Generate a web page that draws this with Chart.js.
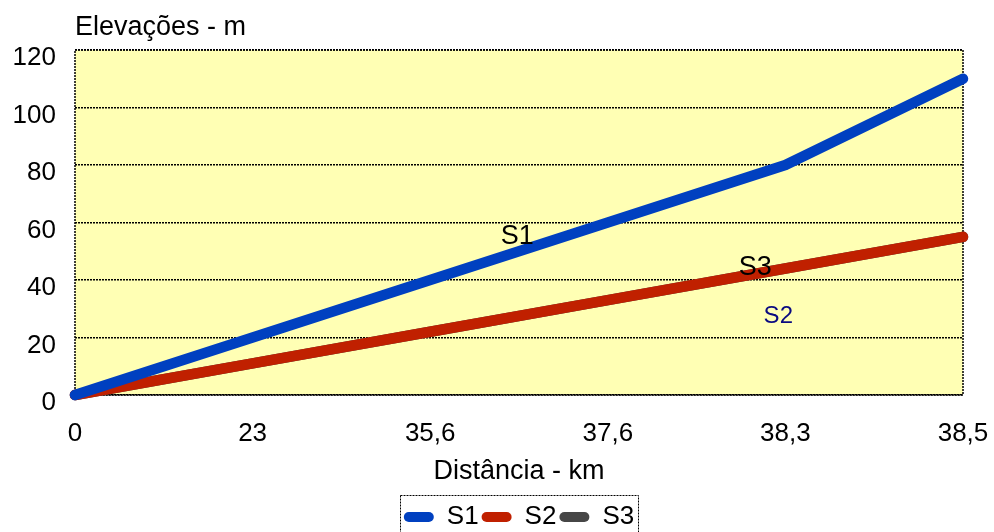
<!DOCTYPE html>
<html>
<head>
<meta charset="utf-8">
<script src="https://cdn.jsdelivr.net/npm/chart.js@4/dist/chart.umd.min.js"></script>
<style>
  html, body { margin: 0; padding: 0; background: #ffffff; overflow: hidden; }
  #wrap { position: relative; width: 994px; height: 540px; }
</style>
</head>
<body>
<div id="wrap"><canvas id="chart"></canvas></div>
<script>
// Distance along the route (km) and elevation (m) for each profile
const distances = ['0', '23', '35,6', '37,6', '38,3', '38,5'];
const s1Elevation = [0, 20, 40, 60, 80, 110];
const s2Elevation = [0, 11, 22, 33, 44, 55];
const s3Elevation = [0, 11, 22, 33, 44, 55];
const yTicks = [0, 20, 40, 60, 80, 100, 120];

// Series names written beside the curves: category position and elevation
const curveNotes = [
  { text: 'S1', at: 2.49, value: 55 },
  { text: 'S3', at: 3.83, value: 44.2 },
  { text: 'S2', at: 3.96, value: 27.5 }
];
const noteStyles = {
  S1: { color: '#000000', size: 27 },
  S3: { color: '#000000', size: 27 },
  S2: { color: '#0a0a80', size: 24 }
};

const FONT = '"Liberation Sans", Arial, Helvetica, sans-serif';
const DOTS = [2, 1];

const plotFrame = {
  id: 'plotFrame',
  beforeDraw(chart) {
    const { ctx, chartArea: a } = chart;
    ctx.save();
    ctx.fillStyle = '#ffffb4';
    ctx.fillRect(a.left, a.top, a.right - a.left, a.bottom - a.top);
    ctx.restore();
  },
  beforeDatasetsDraw(chart) {
    const { ctx, chartArea: a } = chart;
    ctx.save();
    ctx.strokeStyle = '#000000';
    ctx.lineWidth = 1.5;
    ctx.setLineDash(DOTS);
    ctx.strokeRect(a.left, a.top, a.right - a.left, a.bottom - a.top);
    ctx.restore();
  },
  afterDraw(chart) {
    const { ctx, chartArea: a } = chart;
    ctx.save();
    // axis heading above the value scale
    ctx.fillStyle = '#000000';
    ctx.font = '27px ' + FONT;
    ctx.textAlign = 'left';
    ctx.textBaseline = 'alphabetic';
    ctx.fillText('Elevações - m', a.left, 35);

    // series names along the curves
    const xs = chart.scales.x, ys = chart.scales.y;
    curveNotes.forEach(n => {
      const st = noteStyles[n.text];
      ctx.fillStyle = st.color;
      ctx.font = st.size + 'px ' + FONT;
      ctx.textAlign = 'center';
      ctx.textBaseline = 'middle';
      ctx.fillText(n.text, xs.getPixelForValue(n.at), ys.getPixelForValue(n.value));
    });

    // dotted frame around the legend
    const lg = chart.legend;
    if (lg && lg.legendHitBoxes && lg.legendHitBoxes.length) {
      const boxes = lg.legendHitBoxes;
      const left = Math.min(...boxes.map(b => b.left)) - 4;
      const right = Math.max(...boxes.map(b => b.left + b.width)) + 4;
      const top = lg.top - 6;
      ctx.strokeStyle = '#000000';
      ctx.lineWidth = 1;
      ctx.setLineDash(DOTS);
      ctx.strokeRect(Math.round(left) + 0.5, Math.round(top) + 0.5, Math.round(right - left), chart.height);
    }
    ctx.restore();
  }
};

const lineStyle = (color) => ({
  borderColor: color,
  backgroundColor: color,
  borderWidth: 10.5,
  borderCapStyle: 'round',
  borderJoinStyle: 'round',
  pointRadius: 0,
  pointHoverRadius: 0,
  tension: 0,
  fill: false,
  clip: false
});

new Chart(document.getElementById('chart'), {
  type: 'line',
  data: {
    labels: distances,
    datasets: [
      { label: 'S1', data: s1Elevation, order: 0, ...lineStyle('#0040c0') },
      { label: 'S2', data: s2Elevation, order: 0, ...lineStyle('#c02000') },
      { label: 'S3', data: s3Elevation, order: 1, ...lineStyle('#464646') }
    ]
  },
  options: {
    responsive: true,
    maintainAspectRatio: false,
    animation: false,
    layout: { padding: { left: 0, right: 31, top: 50, bottom: 0 } },
    plugins: {
      tooltip: { enabled: false },
      legend: {
        position: 'bottom',
        fullSize: false,
        labels: {
          color: '#000000',
          font: { family: FONT, size: 26 },
          boxWidth: 30,
          boxHeight: 10,
          useBorderRadius: true,
          borderRadius: 5,
          padding: 3,
          generateLabels: (chart) =>
            Chart.defaults.plugins.legend.labels.generateLabels(chart)
              .map(item => ({ ...item, lineWidth: 0, fillStyle: item.strokeStyle }))
        }
      }
    },
    scales: {
      x: {
        type: 'category',
        offset: false,
        grid: {
          display: true,
          drawOnChartArea: false,
          drawTicks: true,
          tickLength: 23,
          tickColor: 'rgba(0,0,0,0)'
        },
        border: { display: false },
        ticks: {
          color: '#000000',
          font: { family: FONT, size: 26 },
          padding: 0,
          maxRotation: 0,
          autoSkip: false
        },
        title: {
          display: true,
          text: 'Distância - km',
          color: '#000000',
          font: { family: FONT, size: 27 },
          padding: { top: 0, bottom: 13 }
        },
        afterFit(scale) { scale.height = 106; }
      },
      y: {
        min: 0,
        max: 120,
        grid: { color: '#000000', lineWidth: 1.5, drawTicks: false },
        border: { display: false, dash: DOTS },
        ticks: {
          stepSize: 20,
          color: '#000000',
          font: { family: FONT, size: 26 },
          padding: 19,
          labelOffset: 8,
          callback: (v) => yTicks.includes(v) ? String(v) : ''
        },
        afterFit(scale) { scale.width = 75; }
      }
    }
  },
  plugins: [plotFrame]
});
</script>
</body>
</html>
